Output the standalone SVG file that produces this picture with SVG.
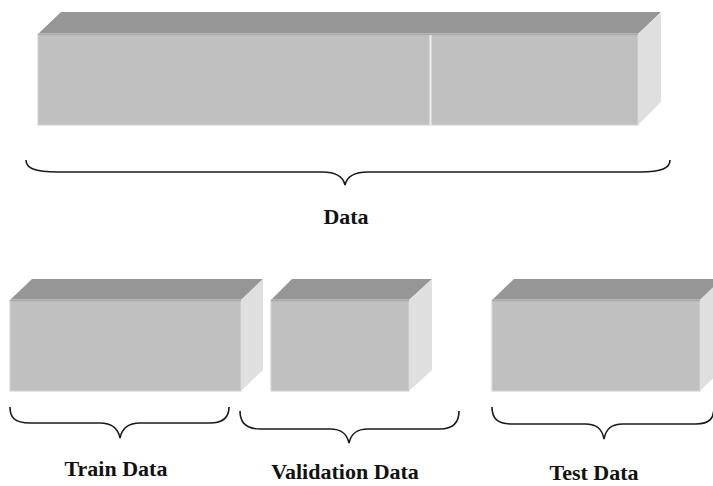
<svg xmlns="http://www.w3.org/2000/svg" width="713" height="486" viewBox="0 0 713 486">
  <style>
    .top { fill: #969696; }
    .front { fill: #c0c0c0; stroke: #d2d2d2; stroke-width: 1.2; }
    .side { fill: #dfdfdf; }
    .edge { stroke: #a9a9a9; stroke-width: 1.5; fill: none; }
    .brace { fill: none; stroke: #1a1a1a; stroke-width: 1.6; }
    .label { font-family: "Liberation Serif", "DejaVu Serif", serif; font-weight: bold; font-size: 22px; fill: #111; text-anchor: middle; }
  </style>
  <rect width="713" height="486" fill="#ffffff"/>

  <!-- full data block -->
  <g id="data-block">
    <polygon class="top" points="38,34 61,12 661,12 638,34"/>
    <rect class="front" x="38" y="34" width="600" height="91"/>
    <polygon class="side" points="638,34 661,12 661,102 638,125"/>
    <line class="edge" x1="38" y1="34.5" x2="638" y2="34.5"/>
    <line x1="430.5" y1="35" x2="430.5" y2="125" stroke="#ececec" stroke-width="2"/>
  </g>

  <!-- train block -->
  <g id="train-block">
    <polygon class="top" points="10,300 32,279 263,279 241,300"/>
    <rect class="front" x="10" y="300" width="231" height="91"/>
    <polygon class="side" points="241,300 263,279 263,370 241,391"/>
    <line class="edge" x1="10" y1="300.5" x2="241" y2="300.5"/>
  </g>

  <!-- validation block -->
  <g id="validation-block">
    <polygon class="top" points="271,300 292,279 432,279 409,300"/>
    <rect class="front" x="271" y="300" width="138" height="91"/>
    <polygon class="side" points="409,300 432,279 432,370 409,391"/>
    <line class="edge" x1="271" y1="300.5" x2="409" y2="300.5"/>
  </g>

  <!-- test block -->
  <g id="test-block">
    <polygon class="top" points="492,300 514,279 722,279 700,300"/>
    <rect class="front" x="492" y="300" width="208" height="91"/>
    <polygon class="side" points="700,300 722,279 722,370 700,391"/>
    <line class="edge" x1="492" y1="300.5" x2="700" y2="300.5"/>
  </g>

  <!-- braces -->
  <g id="connectors">
    <path class="brace" d="M26,160 C26,168 34,172 58,172 L322,172 C336,172 343,176 345,185 C347,176 354,172 368,172 L640,172 C662,172 670,168 670,160"/>
    <path class="brace" d="M10,407 C10,417 14,423 30,423 L100,423 C112,423 118,428 120,438 C122,428 128,423 140,423 L210,423 C224,423 229,417 229,407"/>
    <path class="brace" d="M240,411 C240,422 245,429 260,429 L330,429 C342,429 347,434 349,443 C351,434 356,429 368,429 L440,429 C454,429 459,422 459,411"/>
    <path class="brace" d="M492,407 C492,418 497,424 512,424 L585,424 C597,424 602,429 604,439 C606,429 611,424 623,424 L696,424 C710,424 714,418 714,407"/>
  </g>

  <!-- labels -->
  <g id="labels">
    <text class="label" x="346" y="224">Data</text>
    <text class="label" x="116" y="476">Train Data</text>
    <text class="label" x="345" y="479">Validation Data</text>
    <text class="label" x="594" y="480">Test Data</text>
  </g>
</svg>
